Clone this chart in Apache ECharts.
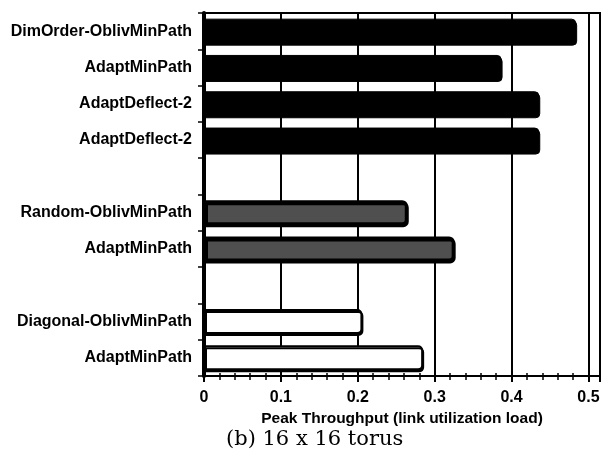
<!DOCTYPE html>
<html><head><meta charset="utf-8">
<script src="https://cdn.jsdelivr.net/npm/echarts@6/dist/echarts.min.js"></script>
<style>html,body{margin:0;padding:0;background:#fff}#c{width:616px;height:462px}</style>
</head><body><div id="c"></div>
<script>
const categories = ['DimOrder-OblivMinPath','AdaptMinPath','AdaptDeflect-2','AdaptDeflect-2','','Random-OblivMinPath','AdaptMinPath','','Diagonal-OblivMinPath','AdaptMinPath'];
const throughput = [0.484, 0.387, 0.436, 0.436, null, 0.265, 0.326, null, 0.206, 0.285];
const trafficGroup = ['dimorder','dimorder','dimorder','dimorder',null,'random','random',null,'diagonal','diagonal'];
const xTicks = [0, 0.1, 0.2, 0.3, 0.4, 0.5];
const xName = 'Peak Throughput (link utilization load)';
const caption = '(b) 16 x 16 torus';

const groupStyle = {
  dimorder: {color:'#000', borderColor:'#000', borderWidth:1},
  random: {color:'#4f4f4f', borderColor:'#000', borderWidth:3},
  diagonal: {color:'#fff', borderColor:'#000', borderWidth:2}
};
const barData = throughput.map((v,i)=> v==null ? '-' : {
  value: v,
  itemStyle: Object.assign({borderRadius:[0,4,4,0], shadowColor:'#000', shadowOffsetY:2, shadowOffsetX:1, shadowBlur:0}, groupStyle[trafficGroup[i]])
});

const chart = echarts.init(document.getElementById('c'), null, {renderer:'canvas'});
const lblFont = {fontFamily:'Liberation Sans', fontWeight:'bold', color:'#000'};
chart.setOption({
  animation:false,
  backgroundColor:'#fff',
  title:{text:caption, left:221, top:424, textStyle:{fontFamily:'DejaVu Serif', fontWeight:'normal', fontSize:21, color:'#000'}},
  grid:{left:204, right:16, top:13, bottom:86, show:true, borderColor:'#000', borderWidth:2, backgroundColor:'transparent'},
  xAxis:[{
    type:'value', min:0, max:0.515, interval:0.1,
    axisLine:{show:true, lineStyle:{color:'#000', width:2}},
    axisTick:{show:true, length:6, lineStyle:{color:'#000', width:2}},
    minorTick:{show:true, splitNumber:5, length:4, lineStyle:{color:'#000', width:1.5}},
    splitLine:{show:true, lineStyle:{color:'#000', width:2}},
    axisLabel:Object.assign({fontSize:16, margin:14, formatter:v=> xTicks.indexOf(Math.round(v*10)/10)>=0 ? String(Math.round(v*10)/10) : ''}, lblFont),
    name:xName, nameLocation:'middle', nameGap:33,
    nameTextStyle:Object.assign({fontSize:15.5}, lblFont)
  },{
    type:'value', min:0, max:0.515, interval:0.1, position:'bottom',
    axisLine:{show:false},
    axisTick:{show:true, inside:true, length:5, lineStyle:{color:'#000', width:2}},
    minorTick:{show:true, splitNumber:5, length:3, lineStyle:{color:'#000', width:1.5}},
    axisLabel:{show:false}, splitLine:{show:false}
  }],
  yAxis:{
    type:'category', data:categories, inverse:true,
    axisLine:{show:true, lineStyle:{color:'#000', width:4}},
    axisTick:{show:true, length:6, alignWithLabel:false, lineStyle:{color:'#000', width:1.5}},
    axisLabel:Object.assign({fontSize:16, margin:12}, lblFont),
    splitLine:{show:false}
  },
  series:[{
    type:'bar', xAxisIndex:0, data:barData, barWidth:25
  }]
});
</script></body></html>
